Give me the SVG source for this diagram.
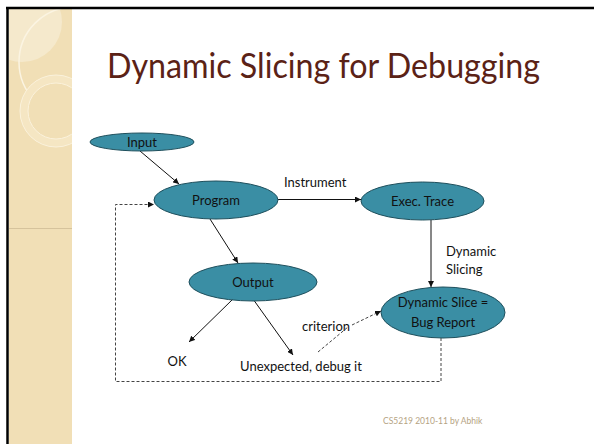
<svg xmlns="http://www.w3.org/2000/svg" width="594" height="444" viewBox="0 0 594 444">
<defs>
<style>
.node ellipse{fill:#3A8EA4;stroke:#1E4F5C;stroke-width:1}
.nt{font-family:Lato,"Open Sans","Liberation Sans",sans-serif;font-size:13px;fill:#111;text-anchor:middle}
.lbl{font-family:Lato,"Open Sans","Liberation Sans",sans-serif;font-size:13px;fill:#111}
.solid{stroke:#111;stroke-width:1;fill:none}
.dash{stroke:#444;stroke-width:1;fill:none;stroke-dasharray:3 2}
</style>
<marker id="ah" viewBox="0 0 8 8" refX="8" refY="4" markerWidth="6" markerHeight="6" orient="auto" markerUnits="userSpaceOnUse">
<path d="M0,0 L8,4 L0,8 z" fill="#111"/>
</marker>
<clipPath id="panel"><rect x="9" y="9" width="63" height="435"/></clipPath>
</defs>
<rect width="594" height="444" fill="#fff"/>
<g id="background">
<rect x="9" y="9" width="63" height="435" fill="#F1DFB6"/>
<g clip-path="url(#panel)">
<circle cx="22" cy="22" r="40" fill="#F5E9CC"/>
<circle cx="74" cy="62" r="55" fill="none" stroke="#FBF4E2" stroke-width="1.5"/>
<circle cx="56" cy="111" r="36" fill="#F5E6C3" stroke="#FBF2DC" stroke-width="1"/>
<circle cx="56" cy="111" r="28" fill="#F1DFB6" stroke="#FBF2DC" stroke-width="1"/>
<line x1="9" y1="228.5" x2="72" y2="228.5" stroke="#D6C39C" stroke-width="1"/>
</g>
<line x1="7.5" y1="7" x2="7.5" y2="444" stroke="#000" stroke-width="2.5"/>
<line x1="6" y1="8" x2="594" y2="8" stroke="#000" stroke-width="2.5"/>
</g>
<text id="title" x="107" y="78" font-family="Lato,'Open Sans','Liberation Sans',sans-serif" font-size="35" fill="#5B2216" textLength="433" lengthAdjust="spacingAndGlyphs">Dynamic Slicing for Debugging</text>
<g id="connectors">
<line class="solid" x1="140" y1="151" x2="179" y2="184" marker-end="url(#ah)"/>
<line class="solid" x1="278" y1="199.5" x2="361" y2="199.5" marker-end="url(#ah)"/>
<line class="solid" x1="210" y1="219" x2="238" y2="263" marker-end="url(#ah)"/>
<line class="solid" x1="431" y1="220" x2="431" y2="287" marker-end="url(#ah)"/>
<line class="solid" x1="233" y1="299" x2="189" y2="342" marker-end="url(#ah)"/>
<line class="solid" x1="253" y1="299" x2="293" y2="355" marker-end="url(#ah)"/>
<polyline class="dash" points="318,352 348,327"/>
<polyline class="dash" points="352,325 381,311" marker-end="url(#ah)"/>
<polyline class="dash" points="441,338 441,381.5 115.5,381.5 115.5,204.5 154,204.5" marker-end="url(#ah)"/>
<text class="lbl" x="284" y="187">Instrument</text>
<text class="lbl" x="446" y="256">Dynamic</text>
<text class="lbl" x="446" y="274">Slicing</text>
<text class="lbl" x="302" y="331">criterion</text>
</g>
<g id="input" class="node"><ellipse cx="142" cy="142" rx="52" ry="9"/><text class="nt" x="142" y="146.5">Input</text></g>
<g id="program" class="node"><ellipse cx="216" cy="200" rx="62" ry="19"/><text class="nt" x="216" y="204.5">Program</text></g>
<g id="exectrace" class="node"><ellipse cx="422.5" cy="201" rx="61.5" ry="19"/><text class="nt" x="422.5" y="205.5">Exec. Trace</text></g>
<g id="output" class="node"><ellipse cx="253" cy="282" rx="64" ry="19"/><text class="nt" x="253" y="286.5">Output</text></g>
<g id="dynslice" class="node"><ellipse cx="443" cy="312.5" rx="62" ry="25.5"/><text class="nt" x="443" y="307">Dynamic Slice =</text><text class="nt" x="443" y="327">Bug Report</text></g>
<g id="ok"><text class="nt" x="177" y="366">OK</text></g>
<g id="unexpected"><text class="nt" x="301" y="371">Unexpected, debug it</text></g>
<text id="footer" x="383" y="424" font-family="Lato,'Open Sans','Liberation Sans',sans-serif" font-size="8.5" fill="#B5A383">CS5219 2010-11 by Abhik</text>
</svg>
